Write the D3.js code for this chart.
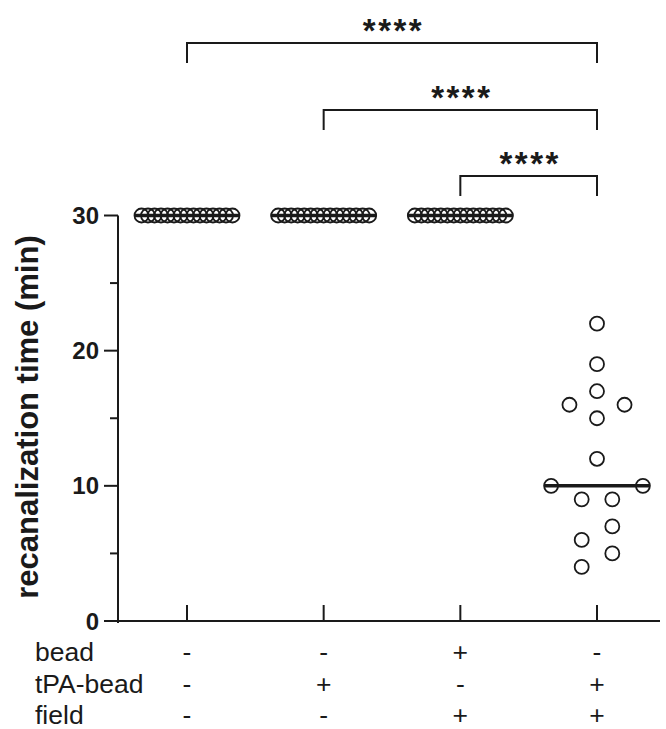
<!DOCTYPE html>
<html>
<head>
<meta charset="utf-8">
<script src="https://cdn.jsdelivr.net/npm/d3@7"></script>
<style>
  body { margin: 0; background: #fff; }
  text { font-family: Arial, "Liberation Sans", Helvetica, sans-serif; fill: #1a1a1a; }
</style>
</head>
<body>
<svg id="chart" width="666" height="729"></svg>
<script>
// groups (x categories)
const groups = ['g1', 'g2', 'g3', 'g4'];

// recanalization times (min) per group
const g1Values = [30, 30, 30, 30, 30, 30, 30, 30, 30, 30, 30, 30, 30, 30, 30];
const g2Values = [30, 30, 30, 30, 30, 30, 30, 30, 30, 30, 30, 30, 30, 30, 30];
const g3Values = [30, 30, 30, 30, 30, 30, 30, 30, 30, 30, 30, 30, 30, 30, 30];
const g4Values = [22, 19, 17, 16, 16, 15, 12, 10, 10, 9, 9, 7, 6, 5, 4];
// swarm slot of each g4 point
const g4Slots = [0, 0, 0, -1.8, 1.8, 0, 0, -3, 3, -1, 1, 1, -1, 1, -1];

// treatment table under the axis
const rowLabels = ['bead', 'tPA-bead', 'field'];
const beadSigns = ['-', '-', '+', '-'];
const tpaSigns = ['-', '+', '-', '+'];
const fieldSigns = ['-', '-', '+', '+'];

// significance brackets
const compFrom = ['g1', 'g2', 'g3'];
const compTo = ['g4', 'g4', 'g4'];
const compLabel = ['****', '****', '****'];

const yMajorTicks = [0, 10, 20, 30];
const yMinorTicks = [5, 15, 25];

const ink = '#1a1a1a';
const svg = d3.select('#chart');

const xScale = d3.scalePoint().domain(groups).range([187, 597]);
const yScale = d3.scaleLinear().domain([0, 30]).range([621, 215.5]);
const slotScale = d3.scaleLinear().domain([0, 1]).range([0, 15.3]);

const points = [];
[g1Values, g2Values, g3Values].forEach((vals, gi) => {
  vals.forEach((v, i) => {
    points.push({ group: groups[gi], value: v, dx: (i - (vals.length - 1) / 2) * 6.5 });
  });
});
g4Values.forEach((v, i) => {
  points.push({ group: 'g4', value: v, dx: slotScale(g4Slots[i]) });
});

const allSets = [g1Values, g2Values, g3Values, g4Values];
const medians = allSets.map((vals, i) => ({ group: groups[i], value: d3.median(vals) }));

// y axis
const yAxis = svg.append('g').attr('class', 'y axis');
yAxis.append('line')
  .attr('x1', 118).attr('x2', 118)
  .attr('y1', yScale(30)).attr('y2', yScale(0) + 2)
  .attr('stroke', ink).attr('stroke-width', 2);
yAxis.selectAll('.major')
  .data(yMajorTicks)
  .enter()
  .append('line')
  .attr('x1', 104).attr('x2', 118)
  .attr('y1', d => yScale(d)).attr('y2', d => yScale(d))
  .attr('stroke', ink).attr('stroke-width', 2);
yAxis.selectAll('.minor')
  .data(yMinorTicks)
  .enter()
  .append('line')
  .attr('x1', 110).attr('x2', 118)
  .attr('y1', d => yScale(d)).attr('y2', d => yScale(d))
  .attr('stroke', ink).attr('stroke-width', 2);
yAxis.selectAll('text')
  .data(yMajorTicks)
  .enter()
  .append('text')
  .attr('x', 99)
  .attr('y', d => yScale(d) + 8.5)
  .attr('text-anchor', 'end')
  .attr('font-size', 24)
  .attr('font-weight', 'bold')
  .text(d => d);

svg.append('text')
  .attr('transform', 'translate(38, 417) rotate(-90)')
  .attr('text-anchor', 'middle')
  .attr('font-size', 31)
  .attr('font-weight', 'bold')
  .text('recanalization time (min)');

// x axis
const xAxis = svg.append('g').attr('class', 'x axis');
xAxis.append('line')
  .attr('x1', 117).attr('x2', 660)
  .attr('y1', yScale(0)).attr('y2', yScale(0))
  .attr('stroke', ink).attr('stroke-width', 2);
xAxis.selectAll('.tick')
  .data(groups)
  .enter()
  .append('line')
  .attr('x1', d => xScale(d)).attr('x2', d => xScale(d))
  .attr('y1', yScale(0) - 16).attr('y2', yScale(0))
  .attr('stroke', ink).attr('stroke-width', 2);

// median lines
svg.selectAll('.median')
  .data(medians)
  .enter()
  .append('line')
  .attr('class', 'median')
  .attr('x1', d => xScale(d.group) - 53)
  .attr('x2', d => xScale(d.group) + 53)
  .attr('y1', d => yScale(d.value)).attr('y2', d => yScale(d.value))
  .attr('stroke', ink).attr('stroke-width', 3.5);

// points
svg.selectAll('.pt')
  .data(points)
  .enter()
  .append('circle')
  .attr('class', 'pt')
  .attr('cx', d => xScale(d.group) + d.dx)
  .attr('cy', d => yScale(d.value))
  .attr('r', 7)
  .attr('fill', 'none')
  .attr('stroke', ink)
  .attr('stroke-width', 1.8);

// brackets
const bracketY = [43, 110, 176];
compFrom.forEach((from, i) => {
  const x1 = xScale(from), x2 = xScale(compTo[i]), y = bracketY[i];
  svg.append('path')
    .attr('d', `M${x1},${y + 20}V${y}H${x2}V${y + 20}`)
    .attr('fill', 'none')
    .attr('stroke', ink)
    .attr('stroke-width', 2);
  svg.append('text')
    .attr('x', (x1 + x2) / 2 + 1.5)
    .attr('y', y - 1)
    .attr('text-anchor', 'middle')
    .attr('font-size', 33)
    .attr('font-weight', 'bold')
    .attr('letter-spacing', 2.5)
    .text(compLabel[i]);
});

// treatment table
const signRows = [beadSigns, tpaSigns, fieldSigns];
const rowBase = [661, 692.5, 723.5];
rowLabels.forEach((label, r) => {
  svg.append('text')
    .attr('x', 35)
    .attr('y', rowBase[r])
    .attr('font-size', 26.5)
    .text(label);
  svg.selectAll(`.sign-${r}`)
    .data(signRows[r])
    .enter()
    .append('text')
    .attr('x', (d, i) => xScale(groups[i]))
    .attr('y', rowBase[r])
    .attr('text-anchor', 'middle')
    .attr('font-size', 26.5)
    .text(d => d);
});
</script>
</body>
</html>
